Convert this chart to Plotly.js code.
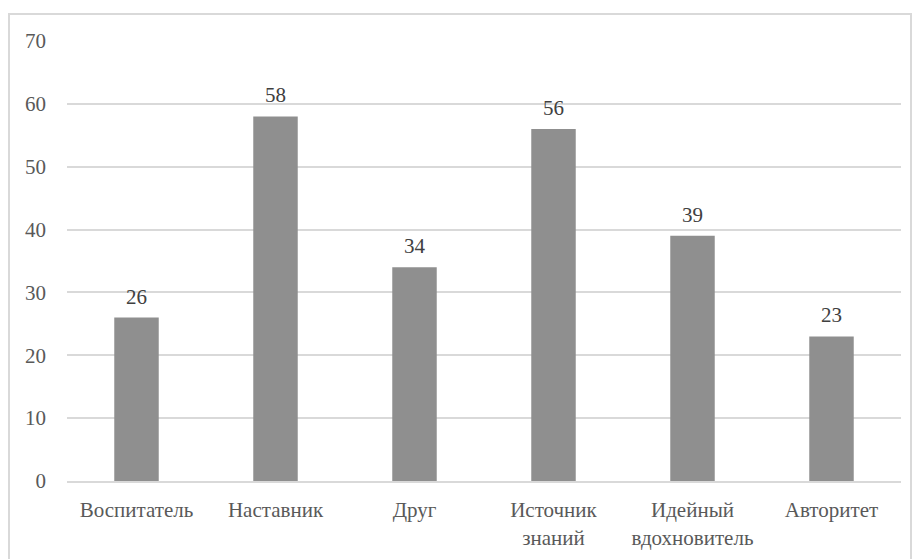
<!DOCTYPE html>
<html>
<head>
<meta charset="utf-8">
<script src="https://cdn.plot.ly/plotly-3.0.1.min.js"></script>
<style>
html,body{margin:0;padding:0;background:#fff;font-family:"Liberation Serif", serif;}
#wrap{position:relative;width:914px;height:559px;overflow:hidden;}
#frame{position:absolute;left:8px;top:13px;width:904px;height:600px;border:2px solid #d9d9d9;box-sizing:border-box;}
#chart{position:absolute;left:0;top:0;width:914px;height:559px;}
</style>
</head>
<body>
<div id="wrap">
<div id="frame"></div>
<div id="chart"></div>
</div>
<script>
const categories = ["Воспитатель", "Наставник", "Друг", "Источник<br>знаний", "Идейный<br>вдохновитель", "Авторитет"];
const barValues = [26, 58, 34, 56, 39, 23];
const yTicks = [0, 10, 20, 30, 40, 50, 60, 70];

function mkFont(color) {
  return {family: "Liberation Serif", size: 21, color: color};
}

const labelNotes = categories.map((c, i) => ({
  x: c, y: barValues[i], xref: "x", yref: "y",
  text: String(barValues[i]), showarrow: false,
  yanchor: "bottom", yshift: 7,
  font: mkFont("#404040")
}));

Plotly.newPlot("chart", [{
  type: "bar",
  x: categories,
  y: barValues,
  marker: {color: "#8f8f8f"},
  hoverinfo: "none"
}], {
  width: 914,
  height: 559,
  margin: {l: 67, r: 13, t: 41, b: 78},
  paper_bgcolor: "rgba(0,0,0,0)",
  plot_bgcolor: "rgba(0,0,0,0)",
  bargap: 0.68,
  showlegend: false,
  font: mkFont("#595959"),
  annotations: labelNotes,
  xaxis: {
    type: "category",
    tickfont: mkFont("#595959"),
    showgrid: false,
    showline: true,
    linecolor: "#d9d9d9",
    linewidth: 2,
    ticks: "",
    ticklabelstandoff: 9
  },
  yaxis: {
    range: [0, 70],
    tickvals: yTicks,
    ticktext: yTicks.map(String),
    tickfont: mkFont("#595959"),
    showgrid: true,
    gridcolor: "#d9d9d9",
    gridwidth: 2,
    zeroline: false,
    showline: false,
    ticks: "",
    ticklabelstandoff: 20
  }
}, {staticPlot: true});
</script>
</body>
</html>
